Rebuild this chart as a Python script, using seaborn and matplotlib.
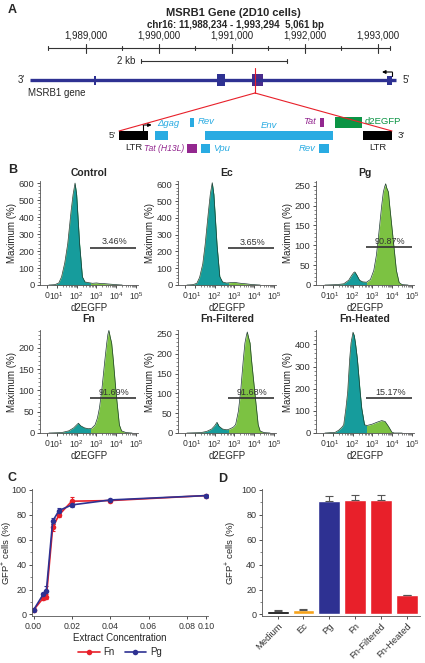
import numpy as np
import pandas as pd
import seaborn as sns
import matplotlib.pyplot as plt
from matplotlib.patches import Rectangle, ConnectionPatch
from matplotlib.ticker import MultipleLocator, AutoMinorLocator
from matplotlib.lines import Line2D

sns.set_style('ticks')
plt.rcParams['font.family'] = ['Liberation Sans', 'DejaVu Sans']
plt.rcParams['mathtext.fontset'] = 'custom'
plt.rcParams['mathtext.rm'] = 'Liberation Sans'
plt.rcParams['mathtext.default'] = 'regular'

# ---- panel A: MSRB1 locus / provirus ----
ruler_start, ruler_end = 1988480, 1993160
ruler_major = [1989000, 1990000, 1991000, 1992000, 1993000]
ruler_minor = [1989500, 1990500, 1991500, 1992500]
scalebar = [1989755, 1991755]
gene_start, gene_end = 1988234, 1993240
exon_start = [1989110, 1990790, 1991270, 1993130]
exon_end = [1989140, 1990905, 1991425, 1993195]
insert_bp = 1991315

# provirus elements (nt along the integrated provirus)
prov_label = ['LTR', 'gag', 'Rev', 'Env', 'Tat', 'd2EGFP', 'LTR', 'Tat (H13L)', 'Vpu', 'Rev']
prov_start = [0, 1080, 2130, 2580, 6030, 6480, 7320, 2040, 2460, 6000]
prov_end = [870, 1470, 2250, 6420, 6150, 7290, 8190, 2340, 2730, 6300]
prov_row = ['mid', 'mid', 'up', 'mid', 'up', 'gfp', 'mid', 'low', 'low', 'low']
prov_color = ['black', 'cyan', 'cyan', 'cyan', 'purple', 'green', 'black', 'purple', 'cyan', 'cyan']

# ---- panel B: flow histograms, x = log10(d2EGFP) ----
ctrl_x = [0.6, 0.9, 1.1, 1.24, 1.4, 1.55, 1.72, 1.82, 1.92, 2.0, 2.05, 2.15, 2.29, 2.42, 2.6, 2.8, 3.0, 3.2, 3.4, 3.6, 3.8, 4.0, 4.3]
ctrl_y = [0, 2, 12, 48, 130, 242, 435, 532, 600, 532, 435, 242, 48, 18, 14, 10, 12, 9, 8, 6, 4, 2, 0]
ec_x = [0.6, 0.9, 1.1, 1.24, 1.4, 1.52, 1.68, 1.78, 1.88, 1.96, 2.02, 2.12, 2.26, 2.4, 2.6, 2.8, 3.0, 3.2, 3.4, 3.6, 3.8, 4.0, 4.3]
ec_y = [0, 2, 10, 45, 125, 240, 430, 540, 610, 540, 430, 240, 50, 18, 12, 14, 16, 12, 9, 7, 4, 2, 0]
pg_x = [0.6, 1.2, 1.55, 1.8, 1.95, 2.05, 2.11, 2.2, 2.35, 2.5, 2.7, 2.9, 3.07, 3.2, 3.3, 3.47, 3.55, 3.62, 3.67, 3.72, 3.81, 3.87, 4.04, 4.21, 4.35, 4.5, 4.8]
pg_y = [0, 1, 3, 12, 24, 31, 33, 26, 12, 8, 7, 14, 37, 75, 119, 201, 234, 248, 255, 245, 234, 201, 119, 37, 6, 1, 0]
fn_x = [0.6, 1.24, 1.6, 1.85, 2.0, 2.09, 2.2, 2.4, 2.6, 2.76, 2.93, 3.05, 3.15, 3.26, 3.43, 3.52, 3.58, 3.63, 3.7, 3.77, 3.85, 3.99, 4.16, 4.27, 4.5, 4.8]
fn_y = [0, 1, 5, 12, 19, 23, 17, 12, 10, 11, 19, 35, 58, 96, 173, 211, 232, 241, 225, 211, 173, 96, 19, 5, 1, 0]
fnf_x = [0.6, 1.3, 1.6, 1.85, 2.0, 2.12, 2.22, 2.4, 2.63, 2.8, 2.95, 3.06, 3.2, 3.31, 3.45, 3.53, 3.6, 3.65, 3.72, 3.79, 3.86, 4.03, 4.2, 4.3, 4.5, 4.8]
fnf_y = [0, 1, 4, 10, 18, 27, 17, 10, 8, 11, 15, 21, 55, 103, 186, 227, 245, 255, 240, 227, 186, 103, 21, 5, 1, 0]
fnh_x = [0.6, 1.12, 1.29, 1.45, 1.55, 1.66, 1.75, 1.85, 1.92, 2.02, 2.08, 2.14, 2.24, 2.38, 2.46, 2.6, 2.73, 2.99, 3.24, 3.47, 3.64, 3.81, 3.98, 4.1, 4.5]
fnh_y = [0, 3, 12, 25, 37, 111, 185, 333, 407, 455, 440, 407, 333, 185, 111, 37, 34, 40, 49, 56, 52, 30, 4, 0, 0]

hist_titles = ['Control', 'Ec', 'Pg', 'Fn', 'Fn-Filtered', 'Fn-Heated']
gate_pct = ['3.46%', '3.65%', '90.87%', '91.69%', '91.68%', '15.17%']
gate_level = [220, 220, 95, 82, 88, 158]
hist_ymax = [612, 620, 262, 242, 260, 465]
hist_ystep = [100, 100, 50, 50, 50, 100]
gate_lo, gate_hi = 2.7, 5.0

# ---- panel C ----
conc = [0, 0.005, 0.0067, 0.01, 0.0133, 0.02, 0.04, 0.10]
fn_gfp = [3.5, 13, 14, 70, 80, 91, 91.5, 95.5]
fn_err = [1, 1.5, 2, 3, 2, 3, 1, 0.8]
pg_gfp = [3.5, 16, 19, 75, 83.5, 88, 92, 95.5]
pg_err = [1, 1.5, 4, 2.5, 2, 1.5, 1, 0.8]

# ---- panel D ----
groups = ['Medium', 'Ec', 'Pg', 'Fn', 'Fn-Filtered', 'Fn-Heated']
gfp_mean = [3.0, 3.6, 90.9, 91.7, 91.7, 15.2]
gfp_err = [0.6, 1.0, 4.5, 4.5, 4.5, 0.5]

COLORS = {'black': 'black', 'cyan': '#29abe2', 'purple': '#93278f', 'green': '#0b9444'}
BLUE, RED, ORANGE = '#2e3192', '#e8202a', '#f6a31b'
TEAL, LIME = '#169c9c', '#7cc242'

W, H = 425, 663
fig = plt.figure(figsize=(W / 100, H / 100), dpi=100)


def px_axes(l, t, r, b):
    return fig.add_axes([l / W, 1 - b / H, (r - l) / W, (b - t) / H])


def ftext(x, y, s, **kw):
    fig.text(x / W, 1 - y / H, s, **kw)


def style_axes(ax, size=6.5):
    ax.tick_params(labelsize=size, length=2.5, width=0.6, pad=1.5, colors='#333333')
    ax.tick_params(which='minor', length=1.4, width=0.5, colors='#555555')
    for sp in ('left', 'bottom'):
        ax.spines[sp].set_linewidth(0.6)
        ax.spines[sp].set_color('#555555')
    sns.despine(ax=ax)


# ================= A =================
ax_a = px_axes(0, 0, W, 160)
ax_a.set_xlim(1987822, 1993644)
ax_a.set_ylim(160, 0)
ax_a.axis('off')

ftext(8, 10, 'A', fontsize=9, fontweight='bold', va='center')
ftext(233, 13, 'MSRB1 Gene (2D10 cells)', fontsize=8, fontweight='bold', ha='center', va='center')
ftext(235, 25, 'chr16: 11,988,234 - 1,993,294  5,061 bp', fontsize=7, fontweight='bold',
      ha='center', va='center')

rc = '#333333'
ax_a.plot([ruler_start, ruler_end], [48, 48], color=rc, lw=0.8)
for b in [ruler_start, ruler_end] + ruler_minor:
    ax_a.plot([b, b], [45.7, 50.3], color=rc, lw=0.8)
for b in ruler_major:
    ax_a.plot([b, b], [43.5, 52.5], color=rc, lw=0.8)
    ax_a.text(b, 36, f'{b:,}', ha='center', va='center', fontsize=7, color='#222222')

ax_a.plot(scalebar, [61, 61], color=rc, lw=0.8)
for b in scalebar:
    ax_a.plot([b, b], [59, 63], color=rc, lw=0.8)
ftext(135, 61, '2 kb', fontsize=7, ha='right', va='center')

ax_a.plot([gene_start, gene_end], [80, 80], color=BLUE, lw=2.4, solid_capstyle='butt')
for i, (s, e) in enumerate(zip(exon_start, exon_end)):
    c = '#4a2c8c' if s <= insert_bp <= e else BLUE
    h = 12 if i in (1, 2) else 9
    ax_a.add_patch(Rectangle((s, 80 - h / 2), e - s, h, color=c, lw=0))
ax_a.plot([insert_bp, insert_bp], [68, 93], color=RED, lw=0.8)
tss = exon_end[-1]
ax_a.plot([tss, tss], [76, 72], color='black', lw=0.8)
ax_a.annotate('', xy=(tss - 140, 72), xytext=(tss, 72),
              arrowprops=dict(arrowstyle='-|>', color='black', lw=0.8, mutation_scale=5,
                              shrinkA=0, shrinkB=0))
ftext(18, 80, "3'", fontsize=7, va='center')
ftext(403, 80, "5'", fontsize=7, va='center')
ftext(28, 93, 'MSRB1 gene', fontsize=7, va='center')

ax_p = px_axes(0, 0, W, 160)
ax_p.set_xlim(-3570, 9180)
ax_p.set_ylim(160, 0)
ax_p.axis('off')
ax_p.patch.set_alpha(0)

rows = {'mid': (131, 140), 'up': (118, 127), 'low': (144, 153), 'gfp': (117, 128)}
for s, e, r, c in zip(prov_start, prov_end, prov_row, prov_color):
    y0, y1 = rows[r]
    ax_p.add_patch(Rectangle((s, y0), e - s, y1 - y0, color=COLORS[c], lw=0))

for end in (prov_start[0], prov_end[6]):
    fig.add_artist(ConnectionPatch(xyA=(insert_bp, 93), coordsA=ax_a.transData,
                                   xyB=(end, 131), coordsB=ax_p.transData,
                                   color=RED, lw=0.8))

# LTR promoter arrow
ax_p.plot([720, 720], [131, 125], color='black', lw=0.8)
ax_p.annotate('', xy=(980, 125), xytext=(720, 125),
              arrowprops=dict(arrowstyle='-|>', color='black', lw=0.8, mutation_scale=5,
                              shrinkA=0, shrinkB=0))

lab = dict(fontsize=6.8, va='center')
ax_p.text(-90, 135.5, "5'", ha='right', **lab)
ax_p.text(8350, 135.5, "3'", ha='left', **lab)
ax_p.text((prov_start[0] + prov_end[0]) / 2, 148, 'LTR', ha='center', **lab)
ax_p.text((prov_start[6] + prov_end[6]) / 2, 148, 'LTR', ha='center', **lab)
ax_p.text(1140, 124, '\u0394gag', ha='left', color=COLORS['cyan'], style='italic', **lab)
ax_p.text(2370, 122, 'Rev', ha='left', color=COLORS['cyan'], style='italic', **lab)
ax_p.text(4500, 125, 'Env', ha='center', color=COLORS['cyan'], style='italic', **lab)
ax_p.text(5910, 122, 'Tat', ha='right', color=COLORS['purple'], style='italic', **lab)
ax_p.text(7380, 122, 'd2EGFP', ha='left', color=COLORS['green'], **lab)
ax_p.text(1960, 148.5, 'Tat (H13L)', ha='right', color=COLORS['purple'], style='italic',
          fontsize=6.2, va='center')
ax_p.text(2820, 148.5, 'Vpu', ha='left', color=COLORS['cyan'], style='italic', **lab)
ax_p.text(5900, 148.5, 'Rev', ha='right', color=COLORS['cyan'], style='italic', **lab)

# ================= B =================
ftext(8, 170, 'B', fontsize=9, fontweight='bold', va='center')
hist_x = [ctrl_x, ec_x, pg_x, fn_x, fnf_x, fnh_x]
hist_y = [ctrl_y, ec_y, pg_y, fn_y, fnf_y, fnh_y]
col_left = [40, 178, 316]
row_span = [(181, 285), (330, 433)]
xtick_pos = [0.5, 1, 2, 3, 4, 5]
xtick_lab = ['0', '10$^{1}$', '10$^{2}$', '10$^{3}$', '10$^{4}$', '10$^{5}$']
minor_pos = np.concatenate([np.log10(np.arange(2, 10)) + n for n in range(1, 5)])

for i in range(6):
    t, b = row_span[i // 3]
    l = col_left[i % 3]
    ax = px_axes(l, t, l + 98, b)
    x, y = np.array(hist_x[i]), np.array(hist_y[i])
    ax.fill_between(x, y, color=LIME, lw=0)
    teal = ax.fill_between(x, y, color=TEAL, lw=0)
    teal.set_clip_path(Rectangle((-1, -50), gate_lo + 1, 2000, transform=ax.transData))
    sns.lineplot(x=x, y=y, ax=ax, color='#1d3a30', lw=0.5, sort=False, estimator=None)
    ax.hlines(gate_level[i], gate_lo, gate_hi, color='#333333', lw=1.2)
    ax.annotate(gate_pct[i], ((gate_lo + gate_hi) / 2 + 0.05, gate_level[i]), xytext=(0, 1),
                textcoords='offset points', ha='center', va='bottom', fontsize=6.5,
                color='#333333')
    ax.set_xlim(0.15, 5.1)
    ax.set_ylim(0, hist_ymax[i])
    ax.set_xticks(xtick_pos)
    ax.set_xticklabels(xtick_lab)
    ax.set_xticks(minor_pos, minor=True)
    ax.yaxis.set_major_locator(MultipleLocator(hist_ystep[i]))
    ax.yaxis.set_minor_locator(AutoMinorLocator(5))
    style_axes(ax, 6.8)
    ax.tick_params(axis='x', labelsize=6.2)
    ax.tick_params(axis='x', which='minor', length=1.2)
    ax.set_xlabel('d2EGFP', fontsize=7, labelpad=0.5)
    ax.set_ylabel('Maximum (%)', fontsize=7, labelpad=1)
    ax.set_title(hist_titles[i], fontsize=7.5, fontweight='bold', pad=3.5 if i < 3 else 6)

# ================= C =================
ftext(7, 478, 'C', fontsize=9, fontweight='bold', va='center')
ax_c = px_axes(32, 489, 208, 616)
df_c = pd.DataFrame({
    'conc': conc * 2,
    'gfp': fn_gfp + pg_gfp,
    'err': fn_err + pg_err,
    'extract': ['Fn'] * len(conc) + ['Pg'] * len(conc),
})
pal = {'Fn': RED, 'Pg': BLUE}
for name in ['Fn', 'Pg']:
    sub = df_c[df_c['extract'] == name]
    ax_c.errorbar(sub['conc'], sub['gfp'], yerr=sub['err'], fmt='none', ecolor=pal[name],
                  elinewidth=0.8, capsize=1.5, capthick=0.8)
sns.lineplot(data=df_c, x='conc', y='gfp', hue='extract', palette=pal, marker='o',
             markersize=4, markeredgewidth=0, lw=1.2, ax=ax_c, legend=False,
             estimator=None, sort=True)


def fwd(v):
    v = np.asarray(v, dtype=float)
    return np.where(v <= 0.08, v, 0.08 + (v - 0.08) * 0.5)


def inv(u):
    u = np.asarray(u, dtype=float)
    return np.where(u <= 0.08, u, 0.08 + (u - 0.08) / 0.5)


ax_c.set_xscale('function', functions=(fwd, inv))
ax_c.set_xlim(-0.0008, 0.1021)
ax_c.set_xticks([0, 0.02, 0.04, 0.06, 0.08, 0.10])
ax_c.set_xticklabels(['0.00', '0.02', '0.04', '0.06', '0.08', '0.10'])
ax_c.set_ylim(-1.3, 100.8)
ax_c.yaxis.set_major_locator(MultipleLocator(20))
ax_c.yaxis.set_minor_locator(MultipleLocator(10))
style_axes(ax_c, 6.5)
ax_c.tick_params(axis='x', labelsize=6.3)
ax_c.set_xlabel('Extract Concentration', fontsize=7, labelpad=2)
ax_c.set_ylabel('GFP$^{+}$ cells (%)', fontsize=6.8)
ax_c.yaxis.set_label_coords(-0.105, 0.5)
handles = [Line2D([], [], color=pal[n], marker='o', markersize=4, lw=1.2, markeredgewidth=0)
           for n in ['Fn', 'Pg']]
fig.legend(handles, ['Fn', 'Pg'], loc='center', bbox_to_anchor=(120 / W, 1 - 652 / H),
           ncol=2, frameon=False, fontsize=7, handlelength=2.2, columnspacing=1.0,
           handletextpad=0.4)

# ================= D =================
ftext(218, 479, 'D', fontsize=9, fontweight='bold', va='center')
ax_d = px_axes(261.7, 489, 420, 616)
bar_colors = ['black', ORANGE, BLUE, RED, RED, RED]
sns.barplot(x=groups, y=gfp_mean, hue=groups, palette=bar_colors, legend=False,
            width=0.85, saturation=1, ax=ax_d)
ax_d.errorbar(range(len(groups)), gfp_mean, yerr=[[0] * len(groups), gfp_err], fmt='none',
              ecolor='#555555', elinewidth=0.8, capsize=3, capthick=0.8)
ax_d.set_xlim(-0.62, 5.52)
ax_d.set_ylim(-1.3, 100.8)
ax_d.yaxis.set_major_locator(MultipleLocator(20))
ax_d.yaxis.set_minor_locator(MultipleLocator(10))
style_axes(ax_d, 6.5)
ax_d.tick_params(axis='x', labelsize=6.8)
plt.setp(ax_d.get_xticklabels(), rotation=45, ha='right', rotation_mode='anchor')
ax_d.set_ylabel('GFP$^{+}$ cells (%)', fontsize=6.8, labelpad=2)

fig.savefig('out.png', dpi=100)
